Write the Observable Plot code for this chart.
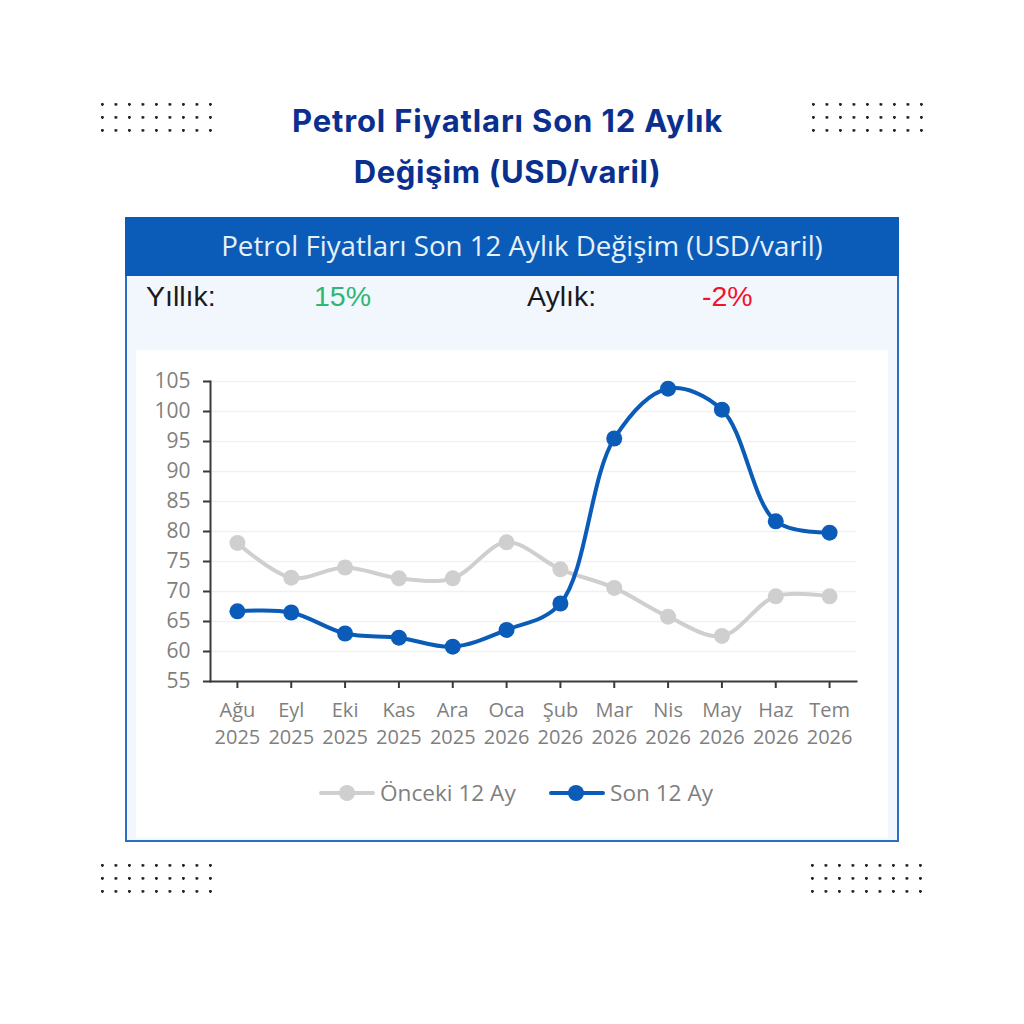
<!DOCTYPE html>
<html lang="tr"><head><meta charset="utf-8">
<script src="https://cdn.jsdelivr.net/npm/d3@7"></script>
<script src="https://cdn.jsdelivr.net/npm/@observablehq/plot@0.6"></script>
<style>
html,body{margin:0;padding:0;background:#fff;width:1024px;height:1024px;overflow:hidden}
body{position:relative;font-family:"Open Sans",sans-serif}
.abs{position:absolute;white-space:nowrap}
.dots{position:absolute;width:112px;height:30px;background-image:radial-gradient(circle at 1.4px 1.4px,#222 1.2px,transparent 1.6px);background-size:13.5px 13px}
#title{left:0;width:1015px;text-align:center;top:95px;font:700 31px/51px Inter,sans-serif;color:#0b2f8f;letter-spacing:.85px}
#title span{letter-spacing:.6px}
#panel{position:absolute;left:125px;top:217px;width:770px;height:621px;border:2px solid #2a6fc4;background:#f2f7fe}
#head{position:absolute;left:135px;top:217px;width:774px;height:59px;color:#e8f0fa;font-size:27.7px;line-height:56px;text-align:center}
#headbg{position:absolute;left:125px;top:217px;width:774px;height:59px;background:#0a5cb8}
#box{position:absolute;left:136px;top:350px;width:752px;height:488px;background:#fff}
#plot{position:absolute;left:130px;top:350px}
.kpi{font:28.5px/34px "Liberation Sans",sans-serif;top:279px}
.leg{font-size:22.6px;line-height:30px;color:#7f7f7f;top:778px}
.ll{position:absolute;height:4px;top:791px;border-radius:2px}
.ld{position:absolute;width:16px;height:16px;top:785px;border-radius:50%}
</style></head><body>
<div class="dots" style="left:101px;top:103px"></div>
<div class="dots" style="left:812px;top:103px"></div>
<div class="dots" style="left:101px;top:864px"></div>
<div class="dots" style="left:811px;top:864px"></div>
<div class="abs" id="title">Petrol Fiyatları Son 12 Aylık<br><span>Değişim (USD/varil)</span></div>
<div id="panel"></div>
<div id="headbg"></div>
<div id="head">Petrol Fiyatları Son 12 Aylık Değişim (USD/varil)</div>
<div class="abs kpi" style="left:146px;color:#1a1a1a">Yıllık:</div>
<div class="abs kpi" style="left:314px;color:#2eb872">15%</div>
<div class="abs kpi" style="left:527px;color:#1a1a1a">Aylık:</div>
<div class="abs kpi" style="left:702px;color:#f5122d">-2%</div>
<div id="box"></div>
<div id="plot"></div>
<div class="ll" style="left:319px;width:56px;background:#cfcfcf"></div>
<div class="ld" style="left:339px;background:#cfcfcf"></div>
<div class="abs leg" style="left:380px">Önceki 12 Ay</div>
<div class="ll" style="left:549px;width:56px;background:#0a5cb8"></div>
<div class="ld" style="left:568px;background:#0a5cb8"></div>
<div class="abs leg" style="left:610px">Son 12 Ay</div>
<script>
const months = ["Ağu","Eyl","Eki","Kas","Ara","Oca","Şub","Mar","Nis","May","Haz","Tem"];
const years = [2025,2025,2025,2025,2025,2026,2026,2026,2026,2026,2026,2026];
const previous = [78.1,72.3,74.0,72.2,72.2,78.2,73.7,70.6,65.8,62.6,69.2,69.2];
const current = [66.7,66.5,63.0,62.3,60.8,63.6,68.0,95.5,103.8,100.3,81.7,79.8];
const yTicks = [55,60,65,70,75,80,85,90,95,100,105];
const labels = months.map((m,i)=>m+"\n"+years[i]);
const row = vals => labels.map((l,i)=>({label:l,value:vals[i]}));
const gridC="#f1f1f1", axisC="#3a3a3a", textC="#7f7f7f";
const chart = Plot.plot({
  width:760,height:470,marginLeft:80,marginRight:34,marginTop:31,marginBottom:139,
  style:{fontFamily:'"Open Sans",sans-serif',fontSize:"20px",background:"transparent"},
  x:{type:"point",domain:labels,padding:0.5,round:false,label:null},
  y:{domain:[55,105],label:null},
  marks:[
    Plot.ruleY(yTicks.slice(1),{stroke:gridC,strokeWidth:1.5}),
    Plot.axisY({ticks:yTicks,tickSize:7,tickPadding:13,stroke:axisC,strokeWidth:2,strokeOpacity:1,fill:textC,label:null,fontSize:21}),
    Plot.axisX({tickSize:7,tickPadding:9,stroke:axisC,strokeWidth:2,strokeOpacity:1,fill:textC,label:null,lineHeight:1.35}),
    Plot.frame({anchor:"left",stroke:axisC,strokeWidth:2}),
    Plot.frame({anchor:"bottom",stroke:axisC,strokeWidth:2}),
    Plot.line(row(previous),{x:"label",y:"value",stroke:"#cfcfcf",strokeWidth:4,curve:"catmull-rom"}),
    Plot.dot(row(previous),{x:"label",y:"value",r:8,fill:"#cfcfcf"}),
    Plot.line(row(current),{x:"label",y:"value",stroke:"#0a5cb8",strokeWidth:4,curve:"catmull-rom"}),
    Plot.dot(row(current),{x:"label",y:"value",r:8,fill:"#0a5cb8"})
  ]
});
document.getElementById("plot").append(chart);
</script>
</body></html>
